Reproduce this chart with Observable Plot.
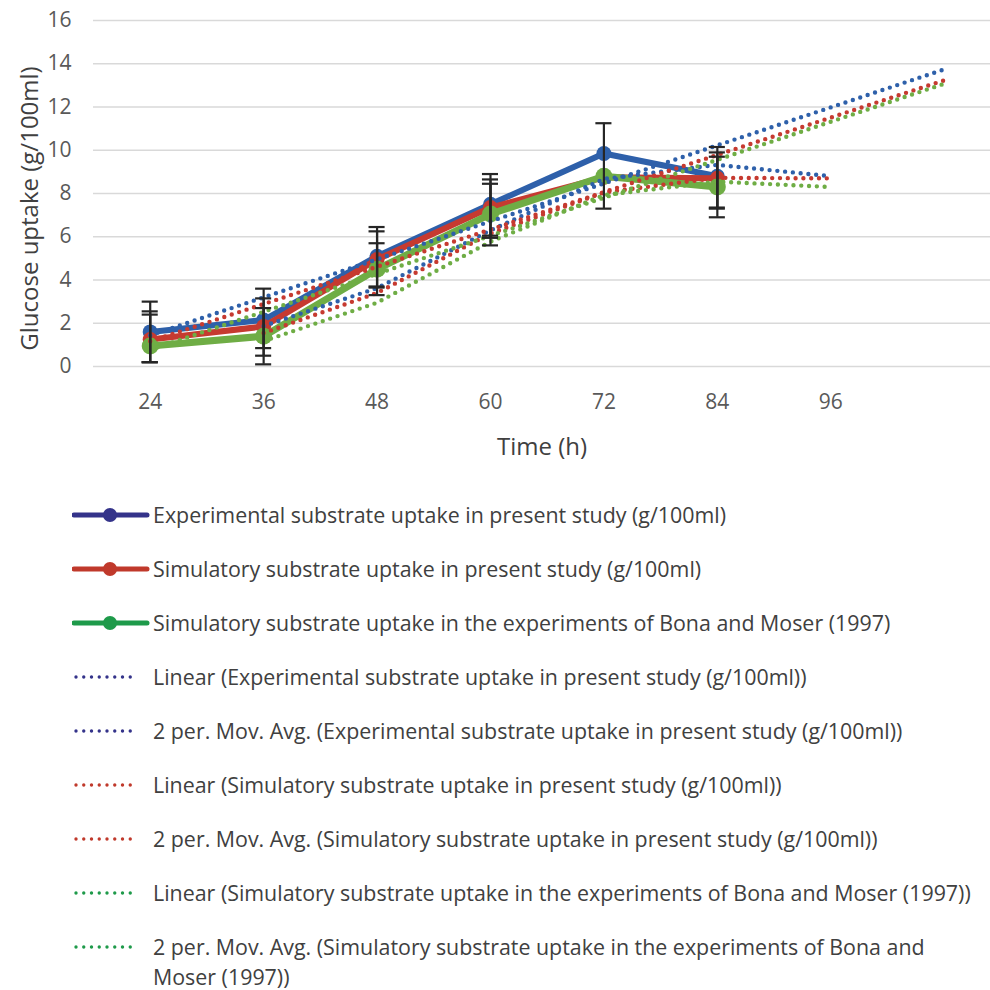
<!DOCTYPE html>
<html>
<head>
<meta charset="utf-8">
<script src="https://cdn.jsdelivr.net/npm/d3@7"></script>
<script src="https://cdn.jsdelivr.net/npm/@observablehq/plot@0.6"></script>
<style>
  html, body { margin: 0; padding: 0; background: #ffffff; }
  body { width: 990px; font-family: "Open Sans", sans-serif; }
  #legend { padding-top: 25px; }
  .row { display: flex; align-items: flex-start; height: 54px; }
  .row.last { height: auto; }
  .sw { margin-left: 72px; width: 80px; height: 30px; flex: none; }
  .lbl { font-size: 21.4px; line-height: 30px; color: #404040; max-width: 828px; white-space: normal; }
</style>
</head>
<body>
<div id="chart"></div>
<div id="legend"></div>
<script>
// ---------- data ----------
const times = [24, 36, 48, 60, 72, 84];
const xTickLabels = [24, 36, 48, 60, 72, 84, 96];
const yTicks = [0, 2, 4, 6, 8, 10, 12, 14, 16];

const expUptake  = [1.6, 2.15, 5.1, 7.5, 9.85, 8.8];
const simUptake  = [1.25, 1.85, 4.95, 7.35, 8.75, 8.7];
const bonaUptake = [0.95, 1.4, 4.5, 7.05, 8.8, 8.3];

const expLow   = [0.2, 0.85, 3.7, 6.05, 7.3, 7.35];
const expHigh  = [3.0, 3.6, 6.45, 8.9, 11.25, 10.15];
const simLow   = [0.2, 0.5, 3.65, 5.95, null, 7.3];
const simHigh  = [2.4, 3.15, 6.25, 8.65, null, 9.9];
const bonaLow  = [0.2, 0.1, 3.3, 5.6, null, 6.9];
const bonaHigh = [2.55, 2.7, 5.7, 8.45, null, 9.7];

const seriesNames = [
  "Experimental substrate uptake in present study (g/100ml)",
  "Simulatory substrate uptake in present study (g/100ml)",
  "Simulatory substrate uptake in the experiments of Bona and Moser (1997)"
];
const forecastForward = 24; // trendline forecast: 2 periods of 12 h
const lastCategory = 96;    // empty category at the end of the axis
const plotColors   = ["#2E60AA", "#C63A30", "#6FAD45"];
const legendColors = ["#34338A", "#C0392B", "#1E9A4A"];

// ---------- derived series ----------
const valuesList = [expUptake, simUptake, bonaUptake];
const lowList = [expLow, simLow, bonaLow];
const highList = [expHigh, simHigh, bonaHigh];

const lineData = [];
valuesList.forEach((vals, s) => vals.forEach((v, i) => lineData.push({s, t: times[i], v})));

const errData = [];
valuesList.forEach((vals, s) => vals.forEach((v, i) => {
  if (lowList[s][i] != null) errData.push({s, t: times[i], low: lowList[s][i], high: highList[s][i]});
}));
const capData = [];
errData.forEach(d => { capData.push({t: d.t, y: d.low}); capData.push({t: d.t, y: d.high}); });

// Excel-style linear trendline (least squares) with forward forecast
function linearTrend(vals) {
  const mx = d3.mean(times), my = d3.mean(vals);
  const sxy = d3.sum(times, (t, i) => (t - mx) * (vals[i] - my));
  const sxx = d3.sum(times, t => (t - mx) ** 2);
  const b = sxy / sxx, a = my - b * mx;
  const t0 = times[0], t1 = times[times.length - 1] + forecastForward;
  return [{t: t0, v: a + b * t0}, {t: t1, v: a + b * t1}];
}
// Excel-style 2-period moving average over categories (blank last category)
function movingAvg(vals) {
  const cats = times.concat([lastCategory]);
  const ext = vals.concat([null]);
  const out = [];
  for (let i = 1; i < cats.length; i++) {
    const pair = [ext[i - 1], ext[i]].filter(v => v != null);
    out.push({t: cats[i], v: d3.mean(pair)});
  }
  return out;
}

const trendMarks = [];
valuesList.forEach((vals, s) => {
  [linearTrend(vals), movingAvg(vals)].forEach(data => {
    trendMarks.push(Plot.line(data, {
      x: "t", y: "v", stroke: plotColors[s], strokeWidth: 4.4,
      strokeDasharray: "0 7.8", strokeLinecap: "round"
    }));
  });
});

const solidMarks = [];
[0, 1, 2].forEach(s => {
  const data = lineData.filter(d => d.s === s);
  solidMarks.push(Plot.line(data, {x: "t", y: "v", stroke: plotColors[s], strokeWidth: s === 2 ? 7 : 6, strokeLinejoin: "round"}));
  solidMarks.push(Plot.dot(data, {x: "t", y: "v", r: s === 2 ? 8.5 : 7.5, fill: plotColors[s], stroke: "none"}));
});

const chart = Plot.plot({
  width: 990,
  height: 475,
  marginLeft: 93,
  marginRight: 0,
  marginTop: 20,
  marginBottom: 109,
  style: {fontFamily: "'Open Sans', sans-serif", color: "#595959", background: "#ffffff"},
  x: {type: "linear", domain: [18, 112.9]},
  y: {domain: [0, 16]},
  marks: [
    Plot.ruleY(yTicks, {stroke: "#d9d9d9", strokeWidth: 1.6}),
    ...solidMarks,
    ...trendMarks,
    Plot.ruleX(errData, {x: "t", y1: "low", y2: "high", stroke: "#262626", strokeWidth: 2.2}),
    Plot.ruleY(capData, {y: "y", x1: d => d.t - 0.85, x2: d => d.t + 0.85, stroke: "#262626", strokeWidth: 2.2}),
    Plot.axisY(yTicks, {tickSize: 0, tickPadding: 22, fontSize: 21, label: null, tickFormat: d => String(d)}),
    Plot.axisX(xTickLabels, {tickSize: 0, tickPadding: 28, fontSize: 21, label: null, tickFormat: d => String(d)}),
    Plot.text(["Glucose uptake (g/100ml)"], {frameAnchor: "left", dx: -63, dy: 15, rotate: -90, fontSize: 24, fill: "#404040", lineAnchor: "middle", textAnchor: "middle"}),
    Plot.text(["Time (h)"], {frameAnchor: "bottom", dy: 81, fontSize: 24, fill: "#404040", lineAnchor: "middle", textAnchor: "middle"})
  ]
});
document.getElementById("chart").appendChild(chart);

// ---------- legend ----------
const legendItems = [
  {kind: "solid", c: 0, label: seriesNames[0]},
  {kind: "solid", c: 1, label: seriesNames[1]},
  {kind: "solid", c: 2, label: seriesNames[2]},
  {kind: "dot", c: 0, label: "Linear (" + seriesNames[0] + ")"},
  {kind: "dot", c: 0, label: "2 per. Mov. Avg. (" + seriesNames[0] + ")"},
  {kind: "dot", c: 1, label: "Linear (" + seriesNames[1] + ")"},
  {kind: "dot", c: 1, label: "2 per. Mov. Avg. (" + seriesNames[1] + ")"},
  {kind: "dot", c: 2, label: "Linear (" + seriesNames[2] + ")"},
  {kind: "dot", c: 2, label: "2 per. Mov. Avg. (" + seriesNames[2] + ")"}
];
const legend = d3.select("#legend");
legendItems.forEach((it, i) => {
  const row = legend.append("div").attr("class", "row" + (i === legendItems.length - 1 ? " last" : ""));
  const svg = row.append("svg").attr("class", "sw").attr("width", 80).attr("height", 30);
  const col = legendColors[it.c];
  if (it.kind === "solid") {
    svg.append("line").attr("x1", 2).attr("x2", 75).attr("y1", 15).attr("y2", 15)
      .attr("stroke", col).attr("stroke-width", 5).attr("stroke-linecap", "round");
    svg.append("circle").attr("cx", 38).attr("cy", 15).attr("r", 7).attr("fill", col);
  } else {
    svg.append("line").attr("x1", 4).attr("x2", 66).attr("y1", 15).attr("y2", 15)
      .attr("stroke", col).attr("stroke-width", 3.4).attr("stroke-linecap", "round")
      .attr("stroke-dasharray", "0 7.75");
  }
  row.append("div").attr("class", "lbl").style("margin-left", "1px").text(it.label);
});
</script>
</body>
</html>
